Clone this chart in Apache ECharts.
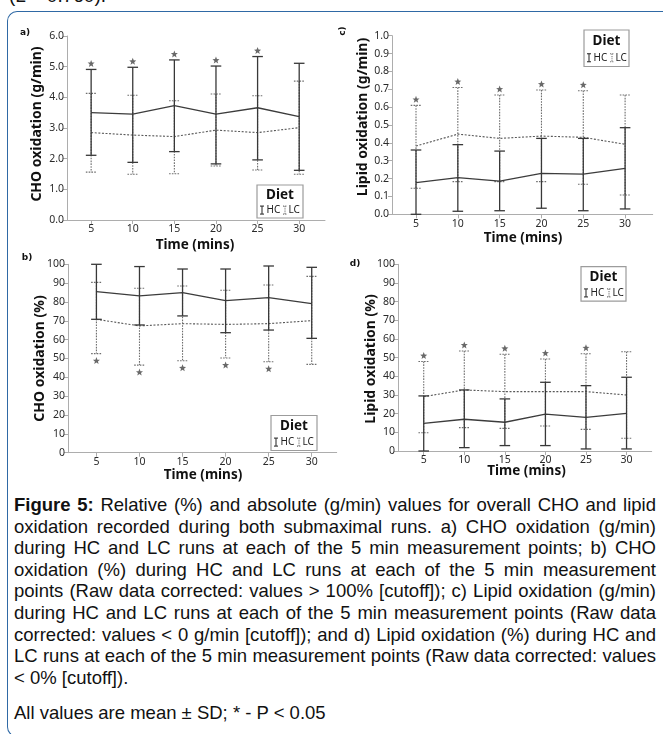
<!DOCTYPE html>
<html>
<head>
<meta charset="utf-8">
<script src="https://cdn.jsdelivr.net/npm/echarts@6/dist/echarts.min.js"></script>
<style>
  body { margin: 0; width: 663px; height: 734px; overflow: hidden; position: relative; background: #fff; font-family: 'Liberation Sans', Arial, sans-serif; }
  #frame { position: absolute; left: 7px; top: 11px; width: 720px; height: 726px; border: 1.5px solid #2f69a5; border-right: none; border-radius: 10px 0 0 10px; box-sizing: border-box; }
  #cut { position: absolute; left: 9px; top: -15px; font-size: 19px; color: #111; white-space: nowrap; }
  #chart { position: absolute; left: 0; top: 0; width: 663px; height: 490px; }
  #caption { position: absolute; left: 14px; top: 494px; width: 642px; font-size: 18.5px; line-height: 21.6px; color: #111; }
  .jl { white-space: nowrap; height: 21.6px; }
  .jl span { display: inline-block; transform-origin: 0 50%; }
  .gap { height: 13.4px; }
</style>
</head>
<body>
<div id="cut">(L = 0.760).</div>
<div id="frame"></div>
<div id="chart"></div>
<div id="caption">
  <div class="jl fit"><span><b>Figure 5:</b> Relative (%) and absolute (g/min) values for overall CHO and lipid</span></div>
  <div class="jl fit"><span>oxidation recorded during both submaximal runs. a) CHO oxidation (g/min)</span></div>
  <div class="jl fit"><span>during HC and LC runs at each of the 5 min measurement points; b) CHO</span></div>
  <div class="jl fit"><span>oxidation (%) during HC and LC runs at each of the 5 min measurement</span></div>
  <div class="jl fit"><span>points (Raw data corrected: values &gt; 100% [cutoff]); c) Lipid oxidation (g/min)</span></div>
  <div class="jl fit"><span>during HC and LC runs at each of the 5 min measurement points (Raw data</span></div>
  <div class="jl fit"><span>corrected: values &lt; 0 g/min [cutoff]); and d) Lipid oxidation (%) during HC and</span></div>
  <div class="jl fit"><span>LC runs at each of the 5 min measurement points (Raw data corrected: values</span></div>
  <div class="jl"><span>&lt; 0% [cutoff]).</span></div>
  <div class="gap"></div>
  <div class="jl"><span>All values are mean ± SD; * - P &lt; 0.05</span></div>
</div>
<script>
// time points (mins)
const times = [5, 10, 15, 20, 25, 30];
const timeTicks = [5, 10, 15, 20, 25, 30];

// a) CHO oxidation (g/min)
const choGHcMean = [3.50, 3.45, 3.73, 3.45, 3.66, 3.37];
const choGHcLow = [2.11, 1.88, 2.23, 1.83, 1.96, 1.62];
const choGHcHigh = [4.91, 4.98, 5.22, 5.02, 5.33, 5.11];
const choGLcMean = [2.85, 2.77, 2.72, 2.93, 2.85, 3.01];
const choGLcLow = [1.56, 1.49, 1.51, 1.76, 1.63, 1.49];
const choGLcHigh = [4.13, 4.07, 3.89, 4.11, 4.05, 4.53];
const choGSig = [1, 1, 1, 1, 1, 0];

// b) CHO oxidation (%)
const choPHcMean = [85.5, 83.2, 85.0, 80.7, 82.3, 79.1];
const choPHcLow = [70.8, 67.8, 72.6, 63.7, 65.1, 60.7];
const choPHcHigh = [100, 98.8, 97.5, 97.5, 99.1, 98.4];
const choPLcMean = [70.8, 67.3, 68.5, 68.1, 68.5, 70.1];
const choPLcLow = [52.6, 46.5, 48.8, 50.3, 48.3, 46.9];
const choPLcHigh = [90.4, 87.3, 88.5, 86.2, 89.0, 93.6];
const choPSig = [1, 1, 1, 1, 1, 0];

// c) Lipid oxidation (g/min)
const lipGHcMean = [0.177, 0.205, 0.186, 0.229, 0.225, 0.257];
const lipGHcLow = [0, 0.017, 0.02, 0.034, 0.02, 0.03];
const lipGHcHigh = [0.36, 0.39, 0.354, 0.425, 0.425, 0.485];
const lipGLcMean = [0.382, 0.449, 0.425, 0.438, 0.431, 0.392];
const lipGLcLow = [0.146, 0.183, 0.183, 0.183, 0.168, 0.108];
const lipGLcHigh = [0.61, 0.71, 0.668, 0.696, 0.692, 0.668];
const lipGSig = [1, 1, 1, 1, 1, 0];

// d) Lipid oxidation (%)
const lipPHcMean = [14.8, 17.0, 15.4, 19.8, 18.0, 20.2];
const lipPHcLow = [0, 1.8, 2.9, 2.9, 1.1, 1.1];
const lipPHcHigh = [29.5, 32.7, 27.9, 36.8, 35.0, 39.5];
const lipPLcMean = [29.1, 32.7, 31.8, 31.8, 31.8, 30.0];
const lipPLcLow = [9.8, 12.5, 12.1, 13.4, 11.6, 6.8];
const lipPLcHigh = [47.9, 53.6, 51.8, 49.3, 52.1, 53.2];
const lipPSig = [1, 1, 1, 1, 1, 0];

const STAR = 'path://M0,-10L2.6,-3.4L9.5,-3.1L4.1,1.3L6,8.1L0,4.2L-6,8.1L-4.1,1.3L-9.5,-3.1L-2.6,-3.4Z';
const TICK_FONT = 'Noto Sans';
const TITLE_FONT = 'bold 13.5px "Noto Sans"';

// panel layout: grid box, x range, y range
const panels = [
  { grid: { left: 67, top: 36, width: 258, height: 184 }, xMin: 2.1, xMax: 33.1, yMax: 6, yStep: 1, dec: 1,
    hc: [choGHcMean, choGHcLow, choGHcHigh], lc: [choGLcMean, choGLcLow, choGLcHigh], sig: choGSig, starOn: 'hcTop' },
  { grid: { left: 68, top: 264.3, width: 268.7, height: 188.4 }, xMin: 1.7, xMax: 32.9, yMax: 100, yStep: 10, dec: 0,
    hc: [choPHcMean, choPHcLow, choPHcHigh], lc: [choPLcMean, choPLcLow, choPLcHigh], sig: choPSig, starOn: 'below' },
  { grid: { left: 392, top: 35.7, width: 260.7, height: 178.6 }, xMin: 2.13, xMax: 33.3, yMax: 1, yStep: 0.1, dec: 1,
    hc: [lipGHcMean, lipGHcLow, lipGHcHigh], lc: [lipGLcMean, lipGLcLow, lipGLcHigh], sig: lipGSig, starOn: 'above' },
  { grid: { left: 398, top: 264.3, width: 253.7, height: 186.7 }, xMin: 1.83, xMax: 33.1, yMax: 100, yStep: 10, dec: 0,
    hc: [lipPHcMean, lipPHcLow, lipPHcHigh], lc: [lipPLcMean, lipPLcLow, lipPLcHigh], sig: lipPSig, starOn: 'above' }
];

function errorBars(gi, lows, highs, color, width, dash, z) {
  return {
    type: 'custom', xAxisIndex: gi, yAxisIndex: gi, silent: true, clip: false, z,
    data: times.map((t, i) => [t, lows[i], highs[i]]),
    encode: { x: 0, y: [1, 2] },
    renderItem(params, api) {
      const lo = api.coord([api.value(0), api.value(1)]);
      const hi = api.coord([api.value(0), api.value(2)]);
      const w = 5.3;
      const style = { stroke: color, lineWidth: width, lineDash: dash };
      return {
        type: 'group',
        children: [
          { type: 'line', shape: { x1: hi[0], y1: hi[1], x2: lo[0], y2: lo[1] }, style },
          { type: 'line', shape: { x1: hi[0] - w, y1: hi[1], x2: hi[0] + w, y2: hi[1] }, style },
          { type: 'line', shape: { x1: lo[0] - w, y1: lo[1], x2: lo[0] + w, y2: lo[1] }, style }
        ]
      };
    }
  };
}

function meanLine(gi, vals, color, width, type, z) {
  return {
    type: 'line', xAxisIndex: gi, yAxisIndex: gi, silent: true, symbol: 'none', z,
    data: times.map((t, i) => [t, vals[i]]),
    lineStyle: { color, width, type }
  };
}

const grids = [], xAxes = [], yAxes = [], series = [];
panels.forEach((p, gi) => {
  grids.push(Object.assign({ outerBoundsMode: 'none', containLabel: false }, p.grid));
  xAxes.push({
    type: 'value', gridIndex: gi, min: p.xMin, max: p.xMax,
    axisLine: { show: true, lineStyle: { color: '#adadad', width: 1 } },
    axisTick: { show: true, length: 4, customValues: timeTicks, lineStyle: { color: '#adadad' } },
    axisLabel: { customValues: timeTicks, margin: 4, fontFamily: TICK_FONT, fontSize: 10.5, color: '#2a2a2a' },
    splitLine: { show: false }
  });
  yAxes.push({
    type: 'value', gridIndex: gi, min: 0, max: p.yMax, interval: p.yStep,
    axisLine: { show: true, lineStyle: { color: '#adadad', width: 1 } },
    axisTick: { show: true, length: 4, lineStyle: { color: '#adadad' } },
    axisLabel: { margin: 3, fontFamily: TICK_FONT, fontSize: 10.5, color: '#2a2a2a',
      formatter: v => v.toFixed(p.dec) },
    splitLine: { show: false }
  });
  series.push(meanLine(gi, p.lc[0], '#5a5a5a', 1.1, [2, 1.6], 2));
  series.push(errorBars(gi, p.lc[1], p.lc[2], '#6e6e6e', 1.1, [1.6, 1.2], 3));
  series.push(meanLine(gi, p.hc[0], '#3c3c3c', 1.3, 'solid', 4));
  series.push(errorBars(gi, p.hc[1], p.hc[2], '#383838', 1.3, null, 5));
  // significance stars
  let starVals, off;
  if (p.starOn === 'below') { starVals = p.lc[1]; off = 7; }
  else if (p.starOn === 'hcTop') { starVals = p.hc[2]; off = -6; }
  else { starVals = p.lc[2]; off = -6; }
  series.push({
    type: 'scatter', xAxisIndex: gi, yAxisIndex: gi, silent: true, z: 6,
    symbol: STAR, symbolSize: 7, symbolOffset: [0, off],
    itemStyle: { color: '#444' },
    data: times.map((t, i) => p.sig[i] ? [t, starVals[i]] : null).filter(Boolean)
  });
});

function legendIcon(x, y, color, dash, width) {
  const style = { stroke: color, lineWidth: width, lineDash: dash };
  return [
    { type: 'line', shape: { x1: x, y1: y - 4, x2: x, y2: y + 4 }, style },
    { type: 'line', shape: { x1: x - 2, y1: y - 4, x2: x + 2, y2: y - 4 }, style },
    { type: 'line', shape: { x1: x - 2, y1: y + 4, x2: x + 2, y2: y + 4 }, style }
  ];
}

function legendBox(x, y, w, h) {
  const ry = h * 0.76;
  return {
    type: 'group', x, y, z: 20,
    children: [
      { type: 'rect', shape: { x: 0, y: 0, width: w, height: h }, style: { fill: '#fff', stroke: '#9c9c9c', lineWidth: 1.2 } },
      { type: 'text', style: { text: 'Diet', x: w / 2, y: h * 0.3, align: 'center', verticalAlign: 'middle', font: 'bold 13.5px "Noto Sans"', fill: '#111' } },
      ...legendIcon(5, ry, '#333', null, 1.1),
      { type: 'text', style: { text: 'HC', x: 9.5, y: ry, verticalAlign: 'middle', font: '10px "Noto Sans"', fill: '#222' } },
      ...legendIcon(28, ry, '#777', [1.2, 1], 1.1),
      { type: 'text', style: { text: 'LC', x: 31.5, y: ry, verticalAlign: 'middle', font: '10px "Noto Sans"', fill: '#222' } }
    ]
  };
}

function label(text, x, y, rot, font) {
  return {
    type: 'text', x, y, rotation: rot || 0, z: 20,
    style: { text, align: 'center', verticalAlign: 'middle', font, fill: '#111' }
  };
}

const graphics = [
  label('a)', 25, 33, 0, 'bold 9px "DejaVu Sans"'),
  label('b)', 27, 258, 0, 'bold 9px "DejaVu Sans"'),
  label('c)', 343, 31, Math.PI / 2, 'bold 9px "DejaVu Sans"'),
  label('d)', 355, 264, 0, 'bold 9px "DejaVu Sans"'),
  label('CHO oxidation (g/min)', 37, 124, Math.PI / 2, 'bold 14px "Noto Sans"'),
  label('CHO oxidation (%)', 40, 358.5, Math.PI / 2, 'bold 14px "Noto Sans"'),
  label('Lipid oxidation (g/min)', 363.5, 117, Math.PI / 2, 'bold 14px "Noto Sans"'),
  label('Lipid oxidation (%)', 371.5, 359, Math.PI / 2, 'bold 14px "Noto Sans"'),
  label('Time (mins)', 195, 245, 0, TITLE_FONT),
  label('Time (mins)', 203, 475.5, 0, TITLE_FONT),
  label('Time (mins)', 523, 238, 0, TITLE_FONT),
  label('Time (mins)', 526.5, 471.5, 0, TITLE_FONT),
  legendBox(257, 185, 46, 33),
  legendBox(271, 415.5, 46, 35),
  legendBox(584, 30, 45, 36.5),
  legendBox(581, 266.7, 45, 34.5)
];

const chart = echarts.init(document.getElementById('chart'), null, { renderer: 'canvas' });
chart.setOption({
  animation: false,
  backgroundColor: 'transparent',
  grid: grids,
  xAxis: xAxes,
  yAxis: yAxes,
  series,
  graphic: graphics
});

// justify caption lines: compress overfull lines, spread words in short ones
const LINE_W = 642;
document.querySelectorAll('#caption .jl.fit span').forEach(span => {
  const w = span.getBoundingClientRect().width;
  if (w > LINE_W) {
    span.style.transform = 'scaleX(' + (LINE_W / w) + ')';
  } else {
    const spaces = (span.textContent.match(/ /g) || []).length;
    if (spaces) span.style.wordSpacing = ((LINE_W - w) / spaces) + 'px';
  }
});
</script>
</body>
</html>
